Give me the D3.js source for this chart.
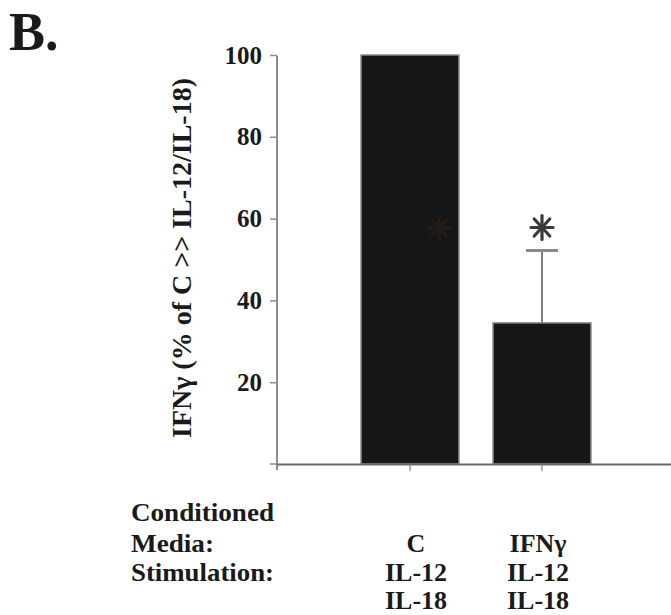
<!DOCTYPE html>
<html>
<head>
<meta charset="utf-8">
<script src="https://cdn.jsdelivr.net/npm/d3@7"></script>
<style>
  body { margin: 0; background: #fff; }
  svg { display: block; }
  text { font-family: "Liberation Serif", "Times New Roman", serif; font-weight: bold; fill: #1a1a1a; }
</style>
</head>
<body>
<div id="chart"></div>
<script>
// data
const categories = ["C", "IFNγ"];
const values = [100, 34.5];
const errors = [0, 17.7];
const significant = [true, true];
const yTicks = [20, 40, 60, 80, 100];

const rowLabels = ["Conditioned", "Media:", "Stimulation:", ""];
const mediaLabels = ["C", "IFNγ"];
const stimLabels1 = ["IL-12", "IL-12"];
const stimLabels2 = ["IL-18", "IL-18"];

const width = 671, height = 615;
const margin = { top: 55, left: 277, bottom: 464 };

const svg = d3.select("#chart").append("svg")
  .attr("width", width)
  .attr("height", height);

const y = d3.scaleLinear()
  .domain([0, 100])
  .range([margin.bottom, margin.top]);

const x = d3.scaleBand()
  .domain(categories)
  .range([344, 608])
  .paddingInner(0.258)
  .paddingOuter(0.129);

// panel letter
svg.append("text")
  .attr("x", 9)
  .attr("y", 50)
  .style("font-size", "54px")
  .text("B.");

// bars
svg.selectAll(".bar")
  .data(categories)
  .enter()
  .append("rect")
  .attr("class", "bar")
  .attr("x", d => x(d))
  .attr("y", (d, i) => y(values[i]))
  .attr("width", x.bandwidth())
  .attr("height", (d, i) => y(0) - y(values[i]))
  .attr("fill", "#151618")
  .attr("stroke", "#8a8a8a")
  .attr("stroke-width", 1.5);

// error bars (upper only)
const errData = categories.map((c, i) => ({ c, v: values[i], e: errors[i] })).filter(d => d.e > 0);
const cx = d => x(d.c) + x.bandwidth() / 2;

svg.selectAll(".err")
  .data(errData)
  .enter()
  .append("line")
  .attr("x1", cx).attr("x2", cx)
  .attr("y1", d => y(d.v)).attr("y2", d => y(d.v + d.e))
  .attr("stroke", "#808080")
  .attr("stroke-width", 2);

svg.selectAll(".cap")
  .data(errData)
  .enter()
  .append("line")
  .attr("x1", d => cx(d) - 16).attr("x2", d => cx(d) + 16)
  .attr("y1", d => y(d.v + d.e)).attr("y2", d => y(d.v + d.e))
  .attr("stroke", "#8a8a8a")
  .attr("stroke-width", 3);

// significance asterisks (the one on the first bar is nearly lost in the black)
const starY = y(values[1] + errors[1]) - 23;
const star = svg.selectAll(".star")
  .data(categories.filter((c, i) => significant[i]))
  .enter()
  .append("g")
  .attr("class", "star")
  .attr("transform", (d, i) => {
    const sx = i === 0 ? x(d) + x.bandwidth() * 0.8 : x(d) + x.bandwidth() / 2;
    return `translate(${sx},${starY})`;
  })
  .attr("stroke", (d, i) => i === 0 ? "#241b17" : "#3a3a3a")
  .attr("stroke-width", 3.2)
  .attr("stroke-linecap", "round");

d3.range(4).forEach(k => {
  const a = k * Math.PI / 4;
  star.append("line")
    .attr("x1", -11 * Math.sin(a)).attr("y1", -12 * Math.cos(a))
    .attr("x2", 11 * Math.sin(a)).attr("y2", 12 * Math.cos(a));
});

// y axis
const yAxis = svg.append("g")
  .attr("transform", `translate(${margin.left},0)`)
  .call(d3.axisLeft(y).tickValues(yTicks).tickSize(7).tickPadding(8));

yAxis.select(".domain")
  .attr("d", `M0,${y(100) + 1}V${y(0) + 6}`)
  .attr("stroke", "#8c8c8c")
  .attr("stroke-width", 2);
yAxis.selectAll(".tick line")
  .attr("stroke", "#8c8c8c")
  .attr("stroke-width", 1.5);
yAxis.selectAll(".tick text")
  .style("font-size", "25px")
  .attr("fill", "#1a1a1a");

// bottom tick at zero
svg.append("line")
  .attr("x1", margin.left - 7).attr("x2", margin.left)
  .attr("y1", y(0)).attr("y2", y(0))
  .attr("stroke", "#8c8c8c")
  .attr("stroke-width", 1.5);

// x axis
svg.append("line")
  .attr("x1", margin.left).attr("x2", width)
  .attr("y1", y(0) + 0.5).attr("y2", y(0) + 0.5)
  .attr("stroke", "#6a6a6a")
  .attr("stroke-width", 2);

svg.selectAll(".xtick")
  .data(categories)
  .enter()
  .append("line")
  .attr("x1", d => x(d) + x.bandwidth() / 2)
  .attr("x2", d => x(d) + x.bandwidth() / 2)
  .attr("y1", y(0) + 1).attr("y2", y(0) + 7)
  .attr("stroke", "#9a9a9a")
  .attr("stroke-width", 1.5);

// y axis title
svg.append("text")
  .attr("transform", `translate(191,258) rotate(-90)`)
  .attr("text-anchor", "middle")
  .style("font-size", "28px")
  .text("IFNγ (% of C >> IL-12/IL-18)");

// table of conditions below the axis
const rowY = [521, 552, 581, 609];
svg.selectAll(".rowlabel")
  .data(rowLabels)
  .enter()
  .append("text")
  .attr("x", 131)
  .attr("y", (d, i) => rowY[i])
  .style("font-size", "26px")
  .attr("textLength", (d, i) => [143, 83, 143, 0][i] || null)
  .attr("lengthAdjust", "spacingAndGlyphs")
  .text(d => d);

const colShift = [6, -4];
[mediaLabels, stimLabels1, stimLabels2].forEach((labels, r) => {
  svg.selectAll(null)
    .data(labels)
    .enter()
    .append("text")
    .attr("x", (d, i) => x(categories[i]) + x.bandwidth() / 2 + colShift[i])
    .attr("y", rowY[r + 1])
    .attr("text-anchor", "middle")
    .style("font-size", "26px")
    .text(d => d);
});
</script>
</body>
</html>
